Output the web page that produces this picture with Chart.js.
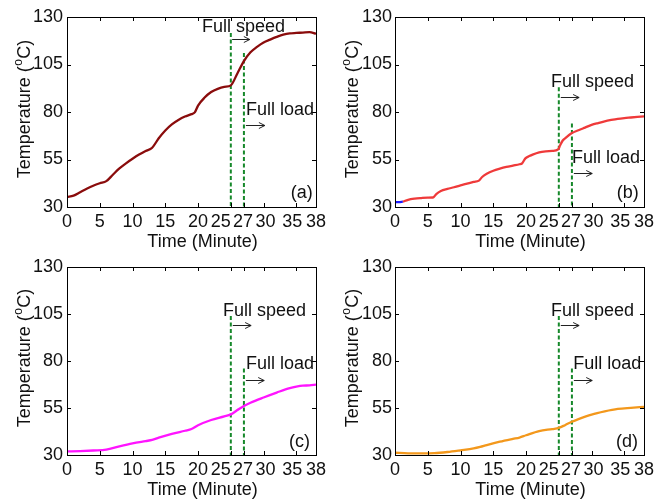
<!DOCTYPE html>
<html><head><meta charset="utf-8">
<script src="https://cdn.jsdelivr.net/npm/chart.js@4.4.1/dist/chart.umd.min.js"></script>
<style>
html,body{margin:0;padding:0;background:#fff;width:669px;height:502px;overflow:hidden}
canvas{position:absolute;display:block}
</style></head><body>
<canvas id="ca" width="334" height="251" style="left:0;top:0"></canvas>
<canvas id="cb" width="335" height="251" style="left:334px;top:0"></canvas>
<canvas id="cc" width="334" height="251" style="left:0;top:251px"></canvas>
<canvas id="cd" width="335" height="251" style="left:334px;top:251px"></canvas>
<script>
// ---------- data ----------
const xTickValues = [0, 5, 10, 15, 20, 25, 27, 30, 35, 38];
const xTickLabels = ['0', '5', '10', '15', '20', '25', '27', '30', '35', '38'];
const yTickValues = [30, 55, 80, 105, 130];
const eventTimes = [25, 27]; // full speed, full load (minute)

const timeA = [0,1,2,3,4,5,6,7,8,9,10,11,12,13,14,15,16,17,18,19,19.5,20,21,22,23,24,25,26,27,28,29,30,31,32,33,34,35,36,37,38];
const tempA = [35.3,36.0,37.8,39.6,41.2,42.5,43.6,47.0,50.3,53.0,55.4,57.6,59.5,61.2,66.2,70.3,73.5,75.8,77.6,78.9,79.8,83.4,87.6,90.5,92.2,93.2,94.0,100.3,106.8,111.4,114.3,116.6,118.1,119.5,120.7,121.4,121.6,121.8,122.0,121.2];

const timeB0 = [0, 0.6, 1.2];
const tempB0 = [32.5, 32.6, 32.8];
const timeB = [1.2,2,3,4,5,5.8,6.3,7,8,9,10,11,12,12.8,13.3,14,15,16,17,18,19,19.4,19.9,20.5,21,22,23,24,24.9,25.2,25.6,26,27,28,29,30,31,32,33,34,35,36,37,38];
const tempB = [32.8,33.8,34.4,34.7,34.9,35.0,36.8,38.4,39.5,40.4,41.4,42.3,43.2,43.9,45.8,47.5,49.1,50.2,51.1,51.8,52.5,53.0,55.6,56.8,57.6,58.8,59.3,59.5,60.3,62.5,65.0,66.3,68.9,70.4,71.8,73.2,74.2,75.1,75.8,76.4,76.8,77.1,77.4,77.7];

const timeC = [0,2,4,6,8,10,12,13,14,16,18,19,20,22,24,25,26,27,28,30,32,34,35,36,37,38];
const tempC = [31.9,32.1,32.4,32.8,34.6,36.2,37.4,38.0,39.2,41.2,42.9,43.8,45.8,48.6,50.5,51.6,53.9,56.1,57.8,60.6,63.2,65.6,66.4,66.9,67.0,67.4];

const timeD = [0,2,4,6,8,10,12,13,14,16,18,19,20,22,24,25,26,27,28,30,32,34,36,38];
const tempD = [31.2,30.9,30.9,31.0,31.6,32.5,33.5,34.3,35.3,37.1,38.6,39.3,40.5,42.7,43.8,44.4,46.0,47.7,49.1,51.5,53.2,54.5,55.1,55.6];

// top temperature of the dashed event markers per panel
const speedMarkTop = [121.6, 93, 104, 104];
const loadMarkTop  = [111, 74, 76, 76];

// ---------- layout / style ----------
const FONT = "'Liberation Sans', Arial, Helvetica, sans-serif";
const TXT = '#111';
const GREEN = '#16882a';
const xLabelShift = [0, 0, 0, 0, 0, -10, -1, 2, -4, 0];

const panels = [
  { id:'ca', tag:'(a)', L:67, R:316, T:17, B:207, W:334, H:251, yPad:4, yTitleX:25,
    series:[{t:timeA, v:tempA, c:'#8a0c0c'}],
    ann:{ speed:[20.6,124.7], speedArrow:[25.2,27.9,118.4], load:[27.3,81], loadArrow:[27.3,30.2,73.2], tag:[37.5,37.4] } },
  { id:'cb', tag:'(b)', L:61, R:310, T:17, B:207, W:335, H:251, yPad:3, yTitleX:19,
    series:[{t:timeB, v:tempB, c:'#ef3a3a'}, {t:timeB0, v:tempB0, c:'#1a1aff'}],
    ann:{ speed:[23.8,95.8], speedArrow:[25.3,28.1,87.9], load:[27.0,55.8], loadArrow:[27.3,30.1,47.9], tag:[37.2,37.4] } },
  { id:'cc', tag:'(c)', L:67, R:316, T:16, B:204, W:334, H:251, yPad:4, yTitleX:25,
    series:[{t:timeC, v:tempC, c:'#ff14ff'}],
    ann:{ speed:[23.8,106.6], speedArrow:[25.3,28.1,99.1], load:[27.3,78.4], loadArrow:[27.3,30.1,69.9], tag:[37.1,36.9] } },
  { id:'cd', tag:'(d)', L:61, R:310, T:16, B:204, W:335, H:251, yPad:3, yTitleX:19,
    series:[{t:timeD, v:tempD, c:'#f3981c'}],
    ann:{ speed:[23.8,106.6], speedArrow:[25.3,28.1,99.1], load:[27.2,78.4], loadArrow:[27.3,30.1,69.9], tag:[37.1,36.9] } }
];

function arrow(ctx, x0, x1, y) {
  ctx.beginPath();
  ctx.moveTo(x0, y); ctx.lineTo(x1, y);
  ctx.moveTo(x1 - 6, y - 3); ctx.lineTo(x1, y); ctx.lineTo(x1 - 6, y + 3);
  ctx.stroke();
}

const decor = {
  id: 'decor',
  afterDraw(chart) {
    const p = chart.options.plugins.decor;
    const {ctx, chartArea: a, scales: {x, y}} = chart;
    ctx.save();
    ctx.strokeStyle = '#000';
    ctx.lineWidth = 1;
    const TL = 4;
    ctx.beginPath();
    xTickValues.forEach(v => {
      const px = Math.round(x.getPixelForValue(v)) + 0.5;
      ctx.moveTo(px, a.bottom); ctx.lineTo(px, a.bottom - TL);
      ctx.moveTo(px, a.top); ctx.lineTo(px, a.top + TL);
    });
    y.ticks.forEach(t => {
      const py = Math.round(y.getPixelForValue(t.value)) + 0.5;
      ctx.moveTo(a.left, py); ctx.lineTo(a.left + TL, py);
      ctx.moveTo(a.right, py); ctx.lineTo(a.right - TL, py);
    });
    ctx.stroke();
    ctx.strokeRect(Math.round(a.left) + 0.5, Math.round(a.top) + 0.5, Math.round(a.width), Math.round(a.height));

    // x tick labels
    ctx.fillStyle = TXT;
    ctx.font = '18px ' + FONT;
    ctx.textAlign = 'center';
    ctx.textBaseline = 'alphabetic';
    xTickValues.forEach((v, i) => {
      ctx.fillText(xTickLabels[i], x.getPixelForValue(v) + xLabelShift[i], a.bottom + 19.5);
    });
    // x title
    ctx.fillText('Time (Minute)', (a.left + a.right) / 2 + 11, a.bottom + 39.5);

    // y title with superscript
    ctx.save();
    ctx.translate(p.yTitleX, (a.top + a.bottom) / 2 - 3);
    ctx.rotate(-Math.PI / 2);
    ctx.textAlign = 'left';
    ctx.textBaseline = 'middle';
    const big = '18px ' + FONT, small = '12px ' + FONT;
    ctx.font = big;
    const w1 = ctx.measureText('Temperature (').width;
    const w3 = ctx.measureText('C)').width;
    ctx.font = small;
    const w2 = ctx.measureText('o').width + 1;
    let sx = -(w1 + w2 + w3) / 2;
    ctx.font = big; ctx.fillText('Temperature (', sx, 0); sx += w1;
    ctx.font = small; ctx.fillText('o', sx + 0.5, -6); sx += w2;
    ctx.font = big; ctx.fillText('C)', sx, 0);
    ctx.restore();

    // annotations
    const an = p.ann;
    ctx.font = '18px ' + FONT;
    ctx.textAlign = 'left';
    ctx.textBaseline = 'middle';
    ctx.fillText('Full speed', x.getPixelForValue(an.speed[0]), y.getPixelForValue(an.speed[1]));
    ctx.fillText('Full load', x.getPixelForValue(an.load[0]), y.getPixelForValue(an.load[1]));
    ctx.textAlign = 'right';
    ctx.fillText(p.tag, x.getPixelForValue(an.tag[0]), y.getPixelForValue(an.tag[1]));
    ctx.strokeStyle = '#222';
    arrow(ctx, x.getPixelForValue(an.speedArrow[0]), x.getPixelForValue(an.speedArrow[1]), Math.round(y.getPixelForValue(an.speedArrow[2])) + 0.5);
    arrow(ctx, x.getPixelForValue(an.loadArrow[0]), x.getPixelForValue(an.loadArrow[1]), Math.round(y.getPixelForValue(an.loadArrow[2])) + 0.5);
    ctx.restore();
  }
};

panels.forEach((p, k) => {
  const datasets = [];
  p.series.forEach(s => {
    datasets.push({
      data: s.t.map((t, i) => ({x: t, y: s.v[i]})),
      borderColor: s.c, borderWidth: 2.3, pointRadius: 0,
      cubicInterpolationMode: 'monotone', fill: false
    });
  });
  [speedMarkTop[k], loadMarkTop[k]].forEach((top, j) => {
    datasets.push({
      data: [{x: eventTimes[j], y: top}, {x: eventTimes[j], y: 30}],
      borderColor: GREEN, borderWidth: 2, borderDash: [4, 2.5], pointRadius: 0, fill: false
    });
  });
  new Chart(document.getElementById(p.id), {
    type: 'line',
    data: { datasets },
    options: {
      responsive: false, animation: false, events: [],
      layout: { padding: { left: 0, top: p.T, right: p.W - p.R, bottom: 0 } },
      plugins: { legend: {display: false}, tooltip: {enabled: false}, decor: p },
      scales: {
        x: {
          type: 'linear', min: 0, max: 38,
          afterBuildTicks: s => { s.ticks = xTickValues.map(v => ({value: v})); },
          afterFit: s => { s.height = p.H - p.B; },
          ticks: { display: false },
          grid: { display: false, drawTicks: false },
          border: { display: false }
        },
        y: {
          type: 'linear', min: 30, max: 130,
          afterBuildTicks: s => { s.ticks = yTickValues.map(v => ({value: v})); },
          afterFit: s => { s.width = p.L; },
          ticks: { font: {family: FONT, size: 18}, color: TXT, padding: p.yPad },
          grid: { display: false, drawTicks: false },
          border: { display: false }
        }
      }
    },
    plugins: [decor]
  });
});
</script>
</body></html>
